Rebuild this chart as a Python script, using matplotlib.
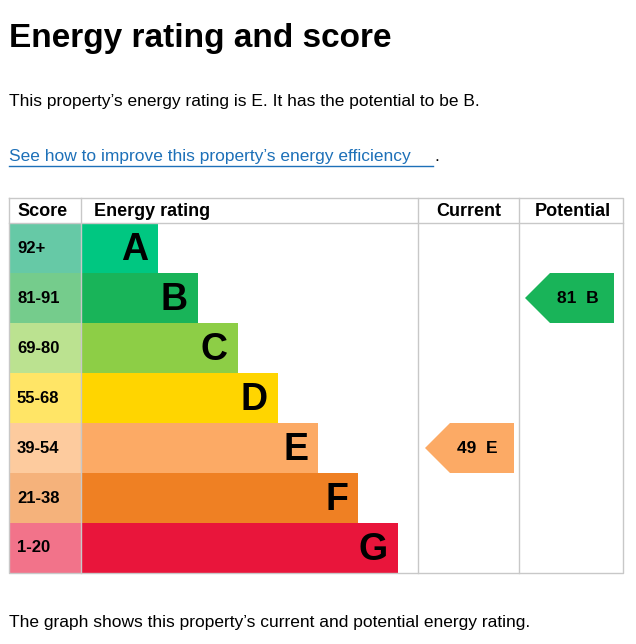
import matplotlib
matplotlib.use("Agg")
import matplotlib.pyplot as plt
from matplotlib.patches import Rectangle, Polygon

bands = ["A", "B", "C", "D", "E", "F", "G"]
score_ranges = ["92+", "81-91", "69-80", "55-68", "39-54", "21-38", "1-20"]
band_ends = [158, 198, 238, 278, 318, 358, 398]
bar_colors = ["#00c781", "#19b459", "#8dce46", "#ffd500", "#fcaa65", "#ef8023", "#e9153b"]
score_colors = ["#66c9a6", "#75cc8c", "#bbe290", "#ffe566", "#fdcb9e", "#f5b27b", "#f2738a"]
current_score, current_band = 49, "E"
potential_score, potential_band = 81, "B"

W, H = 636, 644
fig = plt.figure(figsize=(W/100, H/100), dpi=100)
ax = fig.add_axes([0, 0, 1, 1])
ax.set_xlim(0, W); ax.set_ylim(H, 0); ax.axis("off")

ff = "Liberation Sans"
ax.text(9, 38, "Energy rating and score", fontsize=24, fontweight="bold", va="center", family=ff)
ax.text(9, 101, "This property\u2019s energy rating is E. It has the potential to be B.", fontsize=12.5, va="center", family=ff)
ax.text(9, 156, "See how to improve this property\u2019s energy efficiency", fontsize=12.5, va="center", family=ff, color="#1d70b8")
ax.plot([9, 433], [166, 166], color="#1d70b8", lw=1)
ax.text(434, 156, ".", fontsize=12.5, va="center", family=ff)
ax.text(9, 622, "The graph shows this property\u2019s current and potential energy rating.", fontsize=12.5, va="center", family=ff)

top, hdr, rh = 198, 223, 50
left, c1, c2, c3, right = 9, 81, 418, 519, 623
bottom = hdr + rh*7
gray = "#c8c8c8"
ax.plot([left, right, right, left, left], [top, top, bottom, bottom, top], color=gray, lw=1)
for x in (c1, c2, c3):
    ax.plot([x, x], [top, bottom], color=gray, lw=1)
ax.plot([left, right], [hdr, hdr], color=gray, lw=1)

hf = dict(fontsize=13, fontweight="bold", va="center", family=ff)
ax.text(17, 211, "Score", **hf)
ax.text(94, 211, "Energy rating", **hf)
ax.text(469, 211, "Current", ha="center", **hf)
ax.text(573, 211, "Potential", ha="center", **hf)

for i, (b, s, e, bc, sc) in enumerate(zip(bands, score_ranges, band_ends, bar_colors, score_colors)):
    y0 = hdr + i*rh
    ax.add_patch(Rectangle((left, y0), c1-left, rh, color=sc, lw=0))
    ax.add_patch(Rectangle((c1, y0), e-c1, rh, color=bc, lw=0))
    ax.text(17, y0+rh/2, s, fontsize=12, fontweight="bold", va="center", family=ff)
    ax.text(e-10, y0+rh/2+2, b, fontsize=27, fontweight="bold", va="center", ha="right", family=ff)

def band_of(score):
    lows = [92, 81, 69, 55, 39, 21, 1]
    for i, l in enumerate(lows):
        if score >= l:
            return i
    return 6

def arrow(x0, x1, score, band):
    i = band_of(score)
    y0, y1 = hdr + i*rh, hdr + (i+1)*rh
    ym = (y0+y1)/2
    ax.add_patch(Polygon([(x0, ym), (x0+25, y0), (x1, y0), (x1, y1), (x0+25, y1)], color=bar_colors[i], lw=0))
    ax.text((x0+x1)/2+8, ym, f"{score}  {band}", fontsize=12.5, fontweight="bold", va="center", ha="center", family=ff)

arrow(425, 514, current_score, current_band)
arrow(525, 614, potential_score, potential_band)

fig.savefig("out.png", dpi=100)
